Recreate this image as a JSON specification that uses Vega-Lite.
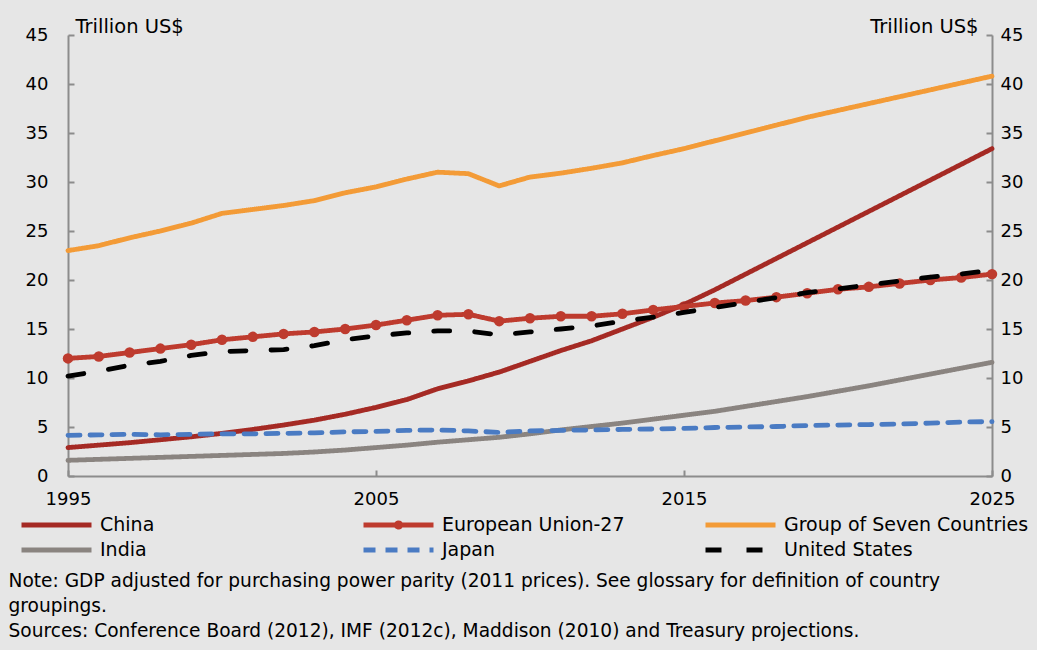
{
  "$schema": "https://vega.github.io/schema/vega-lite/v6.json",
  "width": 924,
  "height": 441,
  "autosize": {"type": "none"},
  "padding": {"left": 68, "top": 35, "right": 45, "bottom": 174},
  "background": "#E6E6E6",
  "config": {
    "view": {"stroke": null},
    "font": "DejaVu Sans",
    "axis": {
      "domainColor": "#8C8C8C", "domainWidth": 2, "tickColor": "#8C8C8C", "tickWidth": 2,
      "tickSize": -6, "labelFontSize": 18, "labelColor": "#000000", "labelFont": "DejaVu Sans",
      "titleFont": "DejaVu Sans", "titleFontSize": 19.5, "titleFontWeight": "normal", "titleColor": "#000000", "grid": false
    },
    "legend": {"labelFont": "DejaVu Sans"}
  },
  "datasets": {
    "gdp": [
      {"year":1995,"s":"China","v":2.9},{"year":1996,"s":"China","v":3.15},{"year":1997,"s":"China","v":3.4},{"year":1998,"s":"China","v":3.7},{"year":1999,"s":"China","v":4.0},{"year":2000,"s":"China","v":4.35},{"year":2001,"s":"China","v":4.75},{"year":2002,"s":"China","v":5.2},{"year":2003,"s":"China","v":5.7},{"year":2004,"s":"China","v":6.3},{"year":2005,"s":"China","v":7.0},{"year":2006,"s":"China","v":7.8},{"year":2007,"s":"China","v":8.9},{"year":2008,"s":"China","v":9.7},{"year":2009,"s":"China","v":10.6},{"year":2010,"s":"China","v":11.7},{"year":2011,"s":"China","v":12.8},{"year":2012,"s":"China","v":13.8},{"year":2013,"s":"China","v":15.0},{"year":2014,"s":"China","v":16.2},{"year":2015,"s":"China","v":17.5},{"year":2016,"s":"China","v":19.0},{"year":2017,"s":"China","v":20.6},{"year":2018,"s":"China","v":22.2},{"year":2019,"s":"China","v":23.8},{"year":2020,"s":"China","v":25.4},{"year":2021,"s":"China","v":27.0},{"year":2022,"s":"China","v":28.6},{"year":2023,"s":"China","v":30.2},{"year":2024,"s":"China","v":31.8},{"year":2025,"s":"China","v":33.4},
      {"year":1995,"s":"European Union-27","v":12.0},{"year":1996,"s":"European Union-27","v":12.2},{"year":1997,"s":"European Union-27","v":12.6},{"year":1998,"s":"European Union-27","v":13.0},{"year":1999,"s":"European Union-27","v":13.4},{"year":2000,"s":"European Union-27","v":13.9},{"year":2001,"s":"European Union-27","v":14.2},{"year":2002,"s":"European Union-27","v":14.5},{"year":2003,"s":"European Union-27","v":14.7},{"year":2004,"s":"European Union-27","v":15.0},{"year":2005,"s":"European Union-27","v":15.4},{"year":2006,"s":"European Union-27","v":15.9},{"year":2007,"s":"European Union-27","v":16.4},{"year":2008,"s":"European Union-27","v":16.5},{"year":2009,"s":"European Union-27","v":15.8},{"year":2010,"s":"European Union-27","v":16.1},{"year":2011,"s":"European Union-27","v":16.3},{"year":2012,"s":"European Union-27","v":16.3},{"year":2013,"s":"European Union-27","v":16.55},{"year":2014,"s":"European Union-27","v":16.95},{"year":2015,"s":"European Union-27","v":17.3},{"year":2016,"s":"European Union-27","v":17.65},{"year":2017,"s":"European Union-27","v":17.9},{"year":2018,"s":"European Union-27","v":18.25},{"year":2019,"s":"European Union-27","v":18.65},{"year":2020,"s":"European Union-27","v":19.05},{"year":2021,"s":"European Union-27","v":19.3},{"year":2022,"s":"European Union-27","v":19.65},{"year":2023,"s":"European Union-27","v":20.0},{"year":2024,"s":"European Union-27","v":20.25},{"year":2025,"s":"European Union-27","v":20.6},
      {"year":1995,"s":"Group of  Seven Countries","v":23.0},{"year":1996,"s":"Group of  Seven Countries","v":23.5},{"year":1997,"s":"Group of  Seven Countries","v":24.3},{"year":1998,"s":"Group of  Seven Countries","v":25.0},{"year":1999,"s":"Group of  Seven Countries","v":25.8},{"year":2000,"s":"Group of  Seven Countries","v":26.8},{"year":2001,"s":"Group of  Seven Countries","v":27.2},{"year":2002,"s":"Group of  Seven Countries","v":27.6},{"year":2003,"s":"Group of  Seven Countries","v":28.1},{"year":2004,"s":"Group of  Seven Countries","v":28.9},{"year":2005,"s":"Group of  Seven Countries","v":29.5},{"year":2006,"s":"Group of  Seven Countries","v":30.3},{"year":2007,"s":"Group of  Seven Countries","v":31.0},{"year":2008,"s":"Group of  Seven Countries","v":30.85},{"year":2009,"s":"Group of  Seven Countries","v":29.6},{"year":2010,"s":"Group of  Seven Countries","v":30.5},{"year":2011,"s":"Group of  Seven Countries","v":30.9},{"year":2012,"s":"Group of  Seven Countries","v":31.4},{"year":2013,"s":"Group of  Seven Countries","v":31.95},{"year":2014,"s":"Group of  Seven Countries","v":32.7},{"year":2015,"s":"Group of  Seven Countries","v":33.4},{"year":2016,"s":"Group of  Seven Countries","v":34.2},{"year":2017,"s":"Group of  Seven Countries","v":35.0},{"year":2018,"s":"Group of  Seven Countries","v":35.8},{"year":2019,"s":"Group of  Seven Countries","v":36.6},{"year":2020,"s":"Group of  Seven Countries","v":37.3},{"year":2021,"s":"Group of  Seven Countries","v":38.0},{"year":2022,"s":"Group of  Seven Countries","v":38.7},{"year":2023,"s":"Group of  Seven Countries","v":39.4},{"year":2024,"s":"Group of  Seven Countries","v":40.1},{"year":2025,"s":"Group of  Seven Countries","v":40.8},
      {"year":1995,"s":"India","v":1.6},{"year":1996,"s":"India","v":1.7},{"year":1997,"s":"India","v":1.8},{"year":1998,"s":"India","v":1.9},{"year":1999,"s":"India","v":2.0},{"year":2000,"s":"India","v":2.1},{"year":2001,"s":"India","v":2.2},{"year":2002,"s":"India","v":2.3},{"year":2003,"s":"India","v":2.45},{"year":2004,"s":"India","v":2.65},{"year":2005,"s":"India","v":2.9},{"year":2006,"s":"India","v":3.15},{"year":2007,"s":"India","v":3.45},{"year":2008,"s":"India","v":3.7},{"year":2009,"s":"India","v":3.95},{"year":2010,"s":"India","v":4.3},{"year":2011,"s":"India","v":4.7},{"year":2012,"s":"India","v":5.05},{"year":2013,"s":"India","v":5.4},{"year":2014,"s":"India","v":5.8},{"year":2015,"s":"India","v":6.2},{"year":2016,"s":"India","v":6.6},{"year":2017,"s":"India","v":7.1},{"year":2018,"s":"India","v":7.6},{"year":2019,"s":"India","v":8.1},{"year":2020,"s":"India","v":8.65},{"year":2021,"s":"India","v":9.2},{"year":2022,"s":"India","v":9.8},{"year":2023,"s":"India","v":10.4},{"year":2024,"s":"India","v":11.0},{"year":2025,"s":"India","v":11.6},
      {"year":1995,"s":"Japan","v":4.15},{"year":1996,"s":"Japan","v":4.2},{"year":1997,"s":"Japan","v":4.25},{"year":1998,"s":"Japan","v":4.2},{"year":1999,"s":"Japan","v":4.25},{"year":2000,"s":"Japan","v":4.3},{"year":2001,"s":"Japan","v":4.3},{"year":2002,"s":"Japan","v":4.35},{"year":2003,"s":"Japan","v":4.4},{"year":2004,"s":"Japan","v":4.5},{"year":2005,"s":"Japan","v":4.55},{"year":2006,"s":"Japan","v":4.65},{"year":2007,"s":"Japan","v":4.7},{"year":2008,"s":"Japan","v":4.6},{"year":2009,"s":"Japan","v":4.45},{"year":2010,"s":"Japan","v":4.6},{"year":2011,"s":"Japan","v":4.65},{"year":2012,"s":"Japan","v":4.7},{"year":2013,"s":"Japan","v":4.75},{"year":2014,"s":"Japan","v":4.8},{"year":2015,"s":"Japan","v":4.85},{"year":2016,"s":"Japan","v":4.95},{"year":2017,"s":"Japan","v":5.0},{"year":2018,"s":"Japan","v":5.05},{"year":2019,"s":"Japan","v":5.15},{"year":2020,"s":"Japan","v":5.2},{"year":2021,"s":"Japan","v":5.25},{"year":2022,"s":"Japan","v":5.3},{"year":2023,"s":"Japan","v":5.4},{"year":2024,"s":"Japan","v":5.5},{"year":2025,"s":"Japan","v":5.55},
      {"year":1995,"s":"United States","v":10.2},{"year":1996,"s":"United States","v":10.7},{"year":1997,"s":"United States","v":11.3},{"year":1998,"s":"United States","v":11.7},{"year":1999,"s":"United States","v":12.3},{"year":2000,"s":"United States","v":12.7},{"year":2001,"s":"United States","v":12.8},{"year":2002,"s":"United States","v":12.9},{"year":2003,"s":"United States","v":13.3},{"year":2004,"s":"United States","v":13.9},{"year":2005,"s":"United States","v":14.3},{"year":2006,"s":"United States","v":14.6},{"year":2007,"s":"United States","v":14.8},{"year":2008,"s":"United States","v":14.8},{"year":2009,"s":"United States","v":14.4},{"year":2010,"s":"United States","v":14.7},{"year":2011,"s":"United States","v":15.0},{"year":2012,"s":"United States","v":15.3},{"year":2013,"s":"United States","v":15.8},{"year":2014,"s":"United States","v":16.2},{"year":2015,"s":"United States","v":16.7},{"year":2016,"s":"United States","v":17.2},{"year":2017,"s":"United States","v":17.7},{"year":2018,"s":"United States","v":18.2},{"year":2019,"s":"United States","v":18.7},{"year":2020,"s":"United States","v":19.1},{"year":2021,"s":"United States","v":19.5},{"year":2022,"s":"United States","v":19.9},{"year":2023,"s":"United States","v":20.3},{"year":2024,"s":"United States","v":20.6},{"year":2025,"s":"United States","v":21.0}
    ]
  },
  "data": {"name": "gdp"},
  "layer": [
    {
      "transform": [{"filter": "datum.s === 'European Union-27'"}],
      "mark": {"type": "point", "filled": true, "size": 110, "opacity": 1},
      "encoding": {
        "x": {"field": "year", "type": "quantitative", "scale": {"domain": [1995, 2025], "nice": false, "zero": false}},
        "y": {"field": "v", "type": "quantitative", "scale": {"domain": [0, 45], "nice": false},
              "axis": {"orient": "right", "values": [0,5,10,15,20,25,30,35,40,45], "labelPadding": 14, "labelAlign": "left",
                       "title": "Trillion US$", "titleAngle": 0, "titleX": -14, "titleY": -3, "titleAlign": "right", "titleBaseline": "alphabetic"}},
        "color": {"field": "s", "type": "nominal"}
      }
    },
    {
      "mark": {"type": "line", "strokeWidth": 4.8, "strokeCap": "round", "strokeJoin": "round"},
      "encoding": {
        "x": {"field": "year", "type": "quantitative", "scale": {"domain": [1995, 2025], "nice": false, "zero": false},
              "axis": {"values": [1995, 2005, 2015, 2025], "format": "d", "labelPadding": 20, "labelFlush": false,
                       "title": ["Note: GDP adjusted for purchasing power parity (2011 prices). See glossary for definition of country", "groupings.", "Sources: Conference Board (2012), IMF (2012c), Maddison (2010) and Treasury projections."],
                       "titleFontSize": 18.6, "titleLineHeight": 25, "titleAnchor": "start", "titleAlign": "left", "titleX": -60, "titleY": 110, "titleBaseline": "alphabetic"}},
        "y": {"field": "v", "type": "quantitative", "scale": {"domain": [0, 45], "nice": false},
              "axis": {"orient": "left", "values": [0,5,10,15,20,25,30,35,40,45], "labelPadding": 26,
                       "title": "Trillion US$", "titleAngle": 0, "titleX": 7, "titleY": -3, "titleAlign": "left", "titleBaseline": "alphabetic"}},
        "color": {
          "field": "s", "type": "nominal",
          "scale": {"domain": ["China", "European Union-27", "Group of  Seven Countries", "India", "Japan", "United States"],
                    "range": ["#A52A24", "#BE3B2E", "#F39B37", "#8A8480", "#4A7BC3", "#000000"]},
          "legend": {
            "orient": "none", "legendX": -49, "legendY": 478, "columns": 3, "direction": "horizontal", "title": null,
            "symbolType": "stroke", "symbolSize": 4900, "symbolStrokeWidth": 5, "clipHeight": 24,
            "labelFontSize": 19, "labelColor": "#000000", "labelOffset": 6, "labelLimit": 400,
            "rowPadding": 1, "columnPadding": 10, "gridAlign": "all",
            "encode": {"symbols": {"update": {
              "shape": {"signal": "datum.value === 'European Union-27' ? 'M-1,0H1M-0.06,0A0.06,0.06 0 1,1 0.06,0A0.06,0.06 0 1,1 -0.06,0' : 'stroke'"},
              "fill": {"signal": "datum.value === 'European Union-27' ? '#BE3B2E' : 'transparent'"}
            }}}
          }
        },
        "strokeDash": {
          "field": "s", "type": "nominal",
          "scale": {"domain": ["China", "European Union-27", "Group of  Seven Countries", "India", "Japan", "United States"],
                    "range": [[1, 0], [1, 0], [1, 0], [1, 0], [12, 10], [16, 25]]}
        }
      }
    }
  ],
  "resolve": {"axis": {"y": "independent"}}
}
